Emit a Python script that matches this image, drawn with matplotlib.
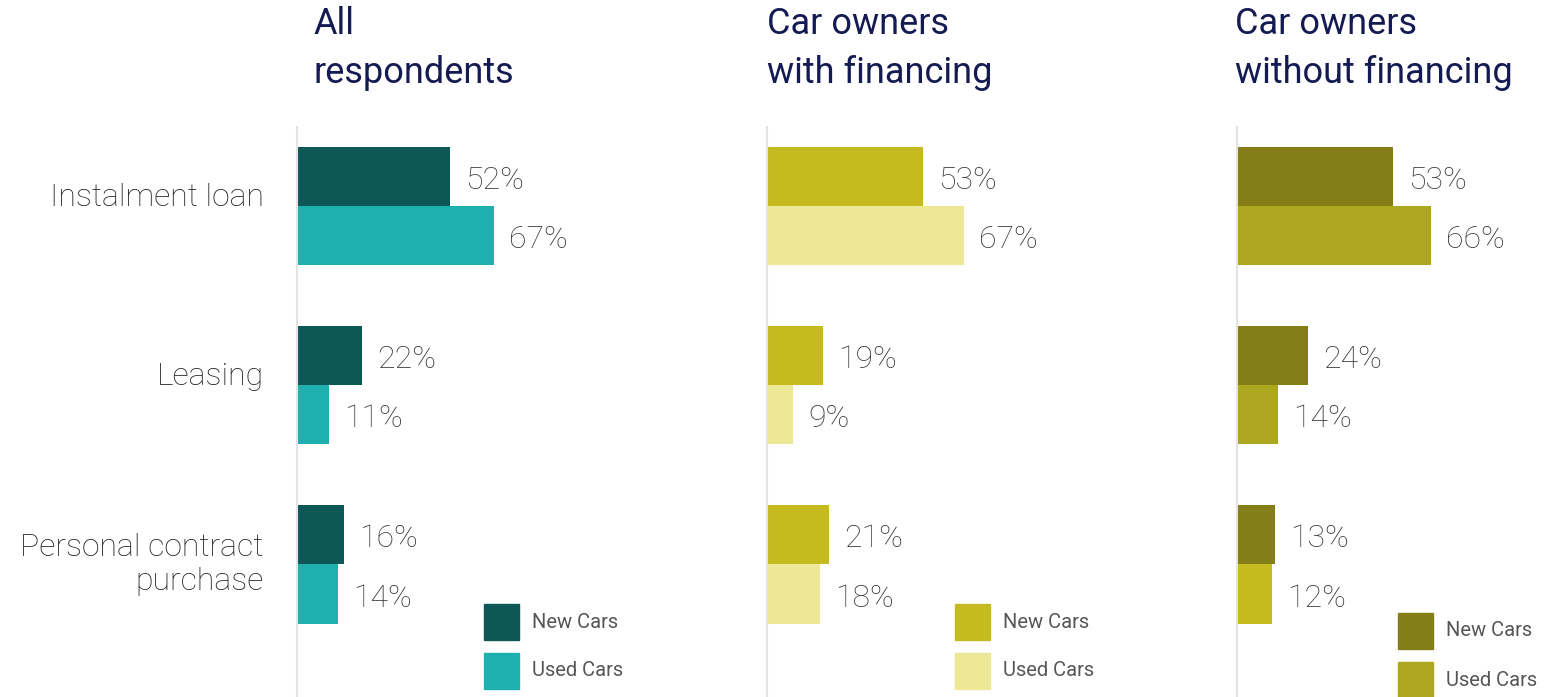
import matplotlib
matplotlib.use("Agg")
import matplotlib.pyplot as plt
from matplotlib.patches import Rectangle

plt.rcParams['font.family'] = ['Roboto', 'DejaVu Sans']

# data
categories = ["Instalment loan", "Leasing", "Personal contract\npurchase"]
titles = ["All\nrespondents", "Car owners\nwith financing", "Car owners\nwithout financing"]
all_new = [52, 22, 16]
all_used = [67, 11, 14]
fin_new = [53, 19, 21]
fin_used = [67, 9, 18]
nofin_new = [53, 24, 13]
nofin_used = [66, 14, 12]

# colours per panel (new, used); last panel's PCP used bar is drawn in a lighter olive
new_colors = [["#0e5757"] * 3, ["#c5bb20"] * 3, ["#857d17"] * 3]
used_colors = [["#1eb0ae"] * 3, ["#ede896"] * 3, ["#ada61f", "#ada61f", "#c5bb20"]]
legend_colors = [("#0e5757", "#1eb0ae"), ("#c5bb20", "#ede896"), ("#857d17", "#ada61f")]

panels = [(all_new, all_used), (fin_new, fin_used), (nofin_new, nofin_used)]

W, H = 1549, 697
fig = plt.figure(figsize=(W / 100, H / 100), dpi=100)

lefts = [297, 767, 1237]
title_x = [313, 767, 1235]
legend_pos = [(484, 604), (955, 604), (1398, 613)]
h = 0.331
ypos = [0, 1, 2]
val_kw = dict(textcoords='offset points', va='center', ha='left', fontsize=23,
              color='#3a3a3a', fontweight='light')

for i, (new, used) in enumerate(panels):
    ax = fig.add_axes([lefts[i] / W, 0, 294 / W, 570 / H])
    ax.set_xlim(0, 100)
    ax.set_ylim(2.741, -0.44)
    ax.barh([y - h / 2 for y in ypos], new, height=h, color=new_colors[i])
    ax.barh([y + h / 2 for y in ypos], used, height=h, color=used_colors[i])
    for y, v in zip(ypos, new):
        ax.annotate(f"{v}%", (v, y - h / 2), xytext=(11, -3), **val_kw)
    for y, v in zip(ypos, used):
        ax.annotate(f"{v}%", (v, y + h / 2), xytext=(11, -3), **val_kw)

    for s in ['top', 'right', 'bottom']:
        ax.spines[s].set_visible(False)
    ax.spines['left'].set_color('#e3e3e3')
    ax.spines['left'].set_linewidth(1.5)
    ax.set_xticks([])
    if i == 0:
        ax.set_yticks(ypos)
        ax.set_yticklabels(categories, fontsize=23, color='#222222', fontweight='light')
        ax.tick_params(axis='y', length=0, pad=24)
        for lbl in ax.get_yticklabels():
            lbl.set_va('center' if '\n' in lbl.get_text() else 'baseline')
    else:
        ax.set_yticks([])

    fig.text(title_x[i] / W, 1 - 6 / H, titles[i], ha='left', va='top',
             fontsize=26, color='#141a52', linespacing=1.45)

    # legend: two squares with labels
    lx, ly = legend_pos[i]
    for k, lab in enumerate(["New Cars", "Used Cars"]):
        top = ly + k * 49
        fig.patches.append(Rectangle((lx / W, 1 - (top + 36) / H), 35 / W, 36 / H,
                                     transform=fig.transFigure, color=legend_colors[i][k]))
        fig.text((lx + 48) / W, 1 - (top + 18) / H, lab, ha='left', va='center',
                 fontsize=14.5, color='#555555')

fig.savefig("out.png", dpi=100)
